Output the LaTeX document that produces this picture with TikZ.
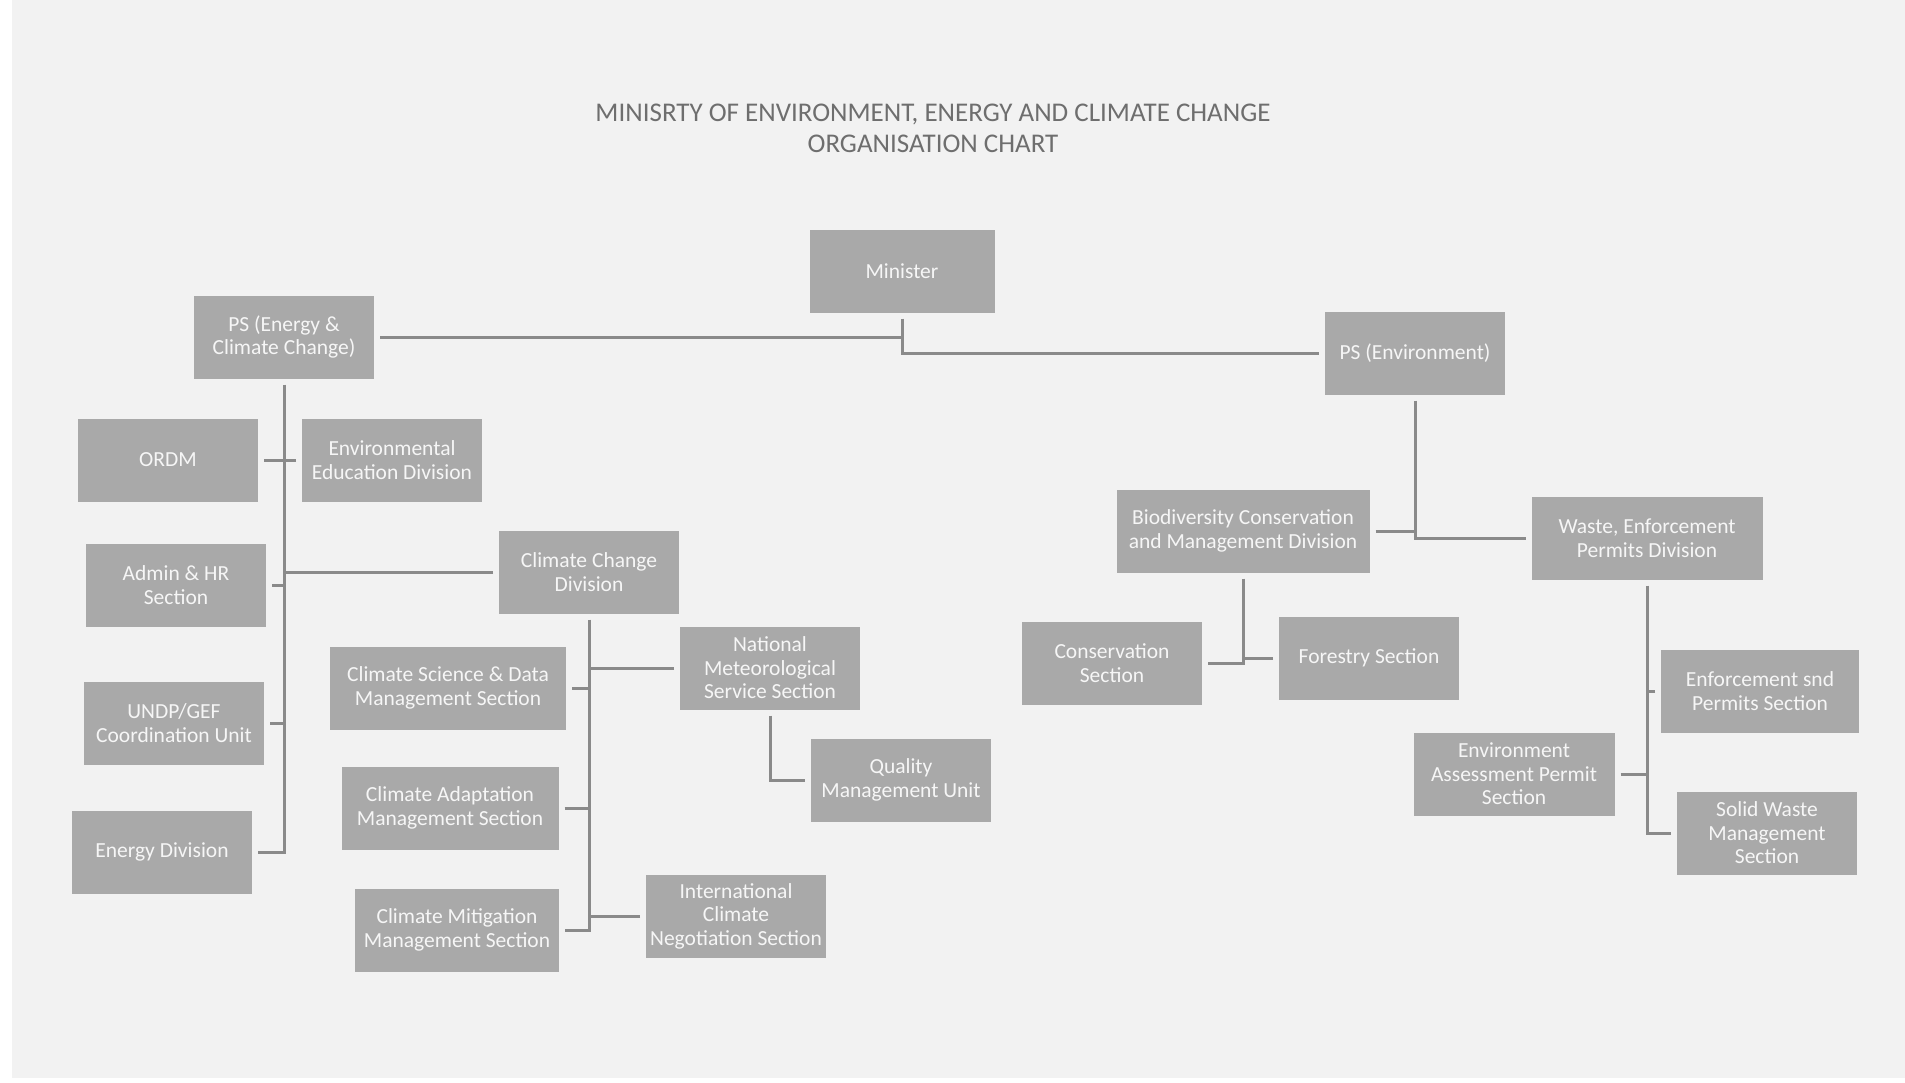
\documentclass[tikz,border=0pt]{standalone}
\usepackage{fontspec}
\setmainfont{Carlito}
\definecolor{bg}{HTML}{F2F2F2}
\definecolor{boxgray}{HTML}{A9A9A9}
\definecolor{linegray}{HTML}{8A8A8A}
\definecolor{titlegray}{HTML}{6E6E6E}
\definecolor{boxtext}{HTML}{F6F6F6}
\tikzset{
  box/.style={rectangle, fill=boxgray, draw=none, inner sep=0pt, outer sep=6pt,
    minimum width=180pt, minimum height=83pt, align=center, text=boxtext,
    font=\fontsize{21.5}{23.5}\selectfont},
  conn/.style={draw=linegray, line width=3pt},
  titletext/.style={text=titlegray, font=\fontsize{27}{31}\selectfont, align=center}
}
\begin{document}
\begin{tikzpicture}[x=1pt,y=-1pt]
\useasboundingbox (0,0) rectangle (1905,1082);
\fill[white] (0,0) rectangle (1905,1082);
\fill[bg] (12,0) rectangle (1905,1078);

\node[titletext] (title) at (933,128) {MINISRTY OF ENVIRONMENT, ENERGY AND CLIMATE CHANGE\\ORGANISATION CHART};

% top level
\node[box, minimum width=185pt] (mini) at (902,271) {Minister};
\node[box] (pse) at (284,337) {PS (Energy \&\\Climate Change)};
\node[box] (psv) at (1415,353) {PS (Environment)};

% left branch
\node[box] (ordm) at (168,460) {ORDM};
\node[box] (envedu) at (392,460) {Environmental\\Education Division};
\node[box] (admin) at (176,585) {Admin \& HR\\Section};
\node[box] (ccd) at (589,572) {Climate Change\\Division};
\node[box] (undp) at (174,723) {UNDP/GEF\\Coordination Unit};
\node[box] (energy) at (162,852) {Energy Division};

% climate change division
\node[box, minimum width=236pt] (csdm) at (448,688) {Climate Science \& Data\\Management Section};
\node[box] (nmss) at (770,668) {National\\Meteorological\\Service Section};
\node[box, minimum width=217pt] (cams) at (450,808) {Climate Adaptation\\Management Section};
\node[box] (qmu) at (901,780) {Quality\\Management Unit};
\node[box] (icns) at (736,916) {International\\Climate\\Negotiation Section};
\node[box, minimum width=204pt] (cmms) at (457,930) {Climate Mitigation\\Management Section};

% right branch
\node[box, minimum width=253pt] (bcmd) at (1243,531) {Biodiversity Conservation\\and Management Division};
\node[box, minimum width=231pt] (wepd) at (1647,538) {Waste, Enforcement\\Permits Division};
\node[box] (cons) at (1112,663) {Conservation\\Section};
\node[box] (forest) at (1369,658) {Forestry Section};
\node[box, minimum width=198pt] (enforce) at (1760,691) {Enforcement snd\\Permits Section};
\node[box, minimum width=201pt] (eaps) at (1514,774) {Environment\\Assessment Permit\\Section};
\node[box] (solid) at (1767,833) {Solid Waste\\Management\\Section};

% connectors: top
\draw[conn] (pse.east) -- (pse.east -| mini.south);
\draw[conn] (mini.south) -- (mini.south |- psv.west) -- (psv.west);

% left trunk
\draw[conn] (pse.south) -- (pse.south |- energy.east) -- (energy.east);
\draw[conn] (ordm.east) -- (ordm.east -| pse.south);
\draw[conn] (envedu.west) -- (envedu.west -| pse.south);
\draw[conn] (admin.east) -- (admin.east -| pse.south);
\draw[conn] (ccd.west) -- (ccd.west -| pse.south);
\draw[conn] (undp.east) -- (undp.east -| pse.south);

% climate change division
\draw[conn] (ccd.south) -- (ccd.south |- cmms.east) -- (cmms.east);
\draw[conn] (csdm.east) -- (csdm.east -| ccd.south);
\draw[conn] (nmss.west) -- (nmss.west -| ccd.south);
\draw[conn] (cams.east) -- (cams.east -| ccd.south);
\draw[conn] (icns.west) -- (icns.west -| ccd.south);
\draw[conn] (nmss.south) -- (nmss.south |- qmu.west) -- (qmu.west);

% right
\draw[conn] (psv.south) -- (psv.south |- wepd.west) -- (wepd.west);
\draw[conn] (bcmd.east) -- (bcmd.east -| psv.south);
\draw[conn] (bcmd.south) -- (bcmd.south |- cons.east) -- (cons.east);
\draw[conn] (forest.west) -- (forest.west -| bcmd.south);
\draw[conn] (wepd.south) -- (wepd.south |- solid.west) -- (solid.west);
\draw[conn] (enforce.west) -- (enforce.west -| wepd.south);
\draw[conn] (eaps.east) -- (eaps.east -| wepd.south);
\end{tikzpicture}
\end{document}
